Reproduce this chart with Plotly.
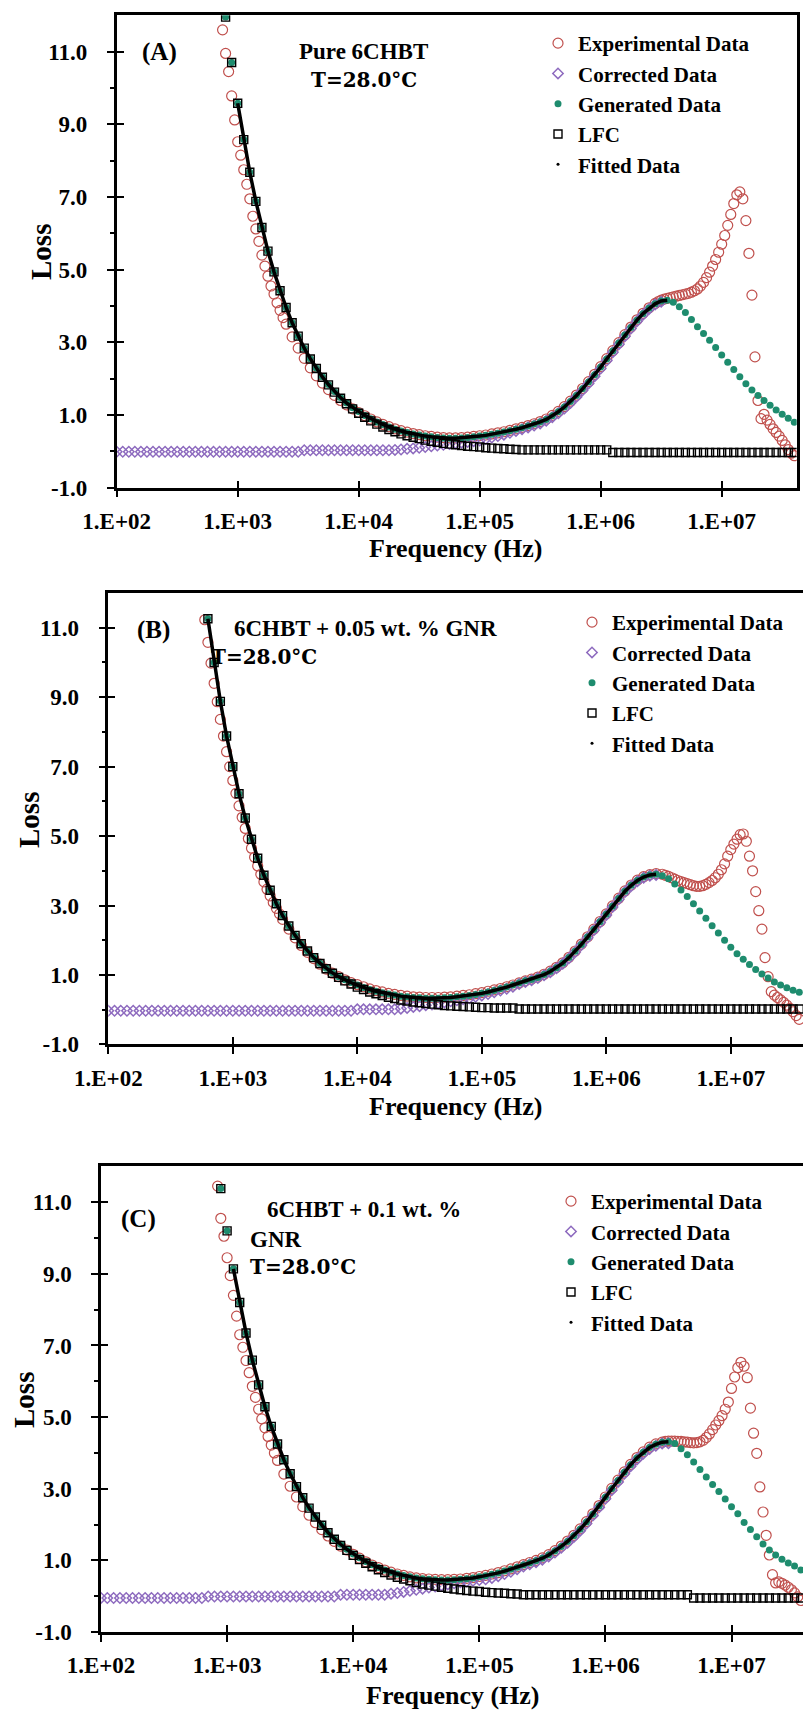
import plotly.graph_objects as go

W, H = 803, 1711

# ---------------- shared frequency grids (log10 of Hz) ----------------
GRID_LOGF = [
    2.00, 2.05, 2.10, 2.15, 2.20, 2.25, 2.30, 2.35, 2.40, 2.45,
    2.50, 2.55, 2.60, 2.65, 2.70, 2.75, 2.80, 2.85, 2.90, 2.95,
    3.00, 3.05, 3.10, 3.15, 3.20, 3.25, 3.30, 3.35, 3.40, 3.45,
    3.50, 3.55, 3.60, 3.65, 3.70, 3.75, 3.80, 3.85, 3.90, 3.95,
    4.00, 4.05, 4.10, 4.15, 4.20, 4.25, 4.30, 4.35, 4.40, 4.45,
    4.50, 4.55, 4.60, 4.65, 4.70, 4.75, 4.80, 4.85, 4.90, 4.95,
    5.00, 5.05, 5.10, 5.15, 5.20, 5.25, 5.30, 5.35, 5.40, 5.45,
    5.50, 5.55, 5.60, 5.65, 5.70, 5.75, 5.80, 5.85, 5.90, 5.95,
    6.00, 6.05, 6.10, 6.15, 6.20, 6.25, 6.30, 6.35, 6.40, 6.45,
    6.50, 6.55, 6.60, 6.65, 6.70, 6.75, 6.80, 6.85, 6.90, 6.95,
    7.00, 7.05, 7.10, 7.15, 7.20, 7.25, 7.30, 7.35, 7.40, 7.45,
    7.50, 7.55, 7.60,
]

EXP_LOGF = [
    2.750, 2.775, 2.800, 2.825, 2.850, 2.875, 2.900, 2.925, 2.950, 2.975,
    3.000, 3.025, 3.050, 3.075, 3.100, 3.125, 3.150, 3.175, 3.200, 3.225,
    3.250, 3.275, 3.300, 3.325, 3.350, 3.375, 3.400,
    3.45, 3.50, 3.55, 3.60, 3.65, 3.70, 3.75, 3.80, 3.85, 3.90,
    3.95, 4.00, 4.05, 4.10, 4.15, 4.20, 4.25, 4.30, 4.35, 4.40,
    4.45, 4.50, 4.55, 4.60, 4.65, 4.70, 4.75, 4.80, 4.85, 4.90,
    4.95, 5.00, 5.05, 5.10, 5.15, 5.20, 5.25, 5.30, 5.35, 5.40,
    5.45, 5.50, 5.55, 5.60, 5.65, 5.70, 5.75, 5.80, 5.85, 5.90,
    5.95, 6.00, 6.05, 6.10, 6.15, 6.20, 6.25, 6.30, 6.35, 6.40,
    6.45,
    6.475, 6.500, 6.525, 6.550, 6.575, 6.600, 6.625, 6.650, 6.675, 6.700,
    6.725, 6.750, 6.775, 6.800, 6.825, 6.850, 6.875, 6.900, 6.925, 6.950,
    6.975, 7.000, 7.025, 7.050, 7.075, 7.100, 7.125, 7.150, 7.175, 7.200,
    7.225, 7.250, 7.275, 7.300, 7.325, 7.350, 7.375, 7.400, 7.425, 7.450,
    7.475, 7.500, 7.525, 7.550, 7.575, 7.600,
]

X_TICK_HZ = [1e2, 1e3, 1e4, 1e5, 1e6, 1e7]
X_TICK_TEXT = ["1.E+02", "1.E+03", "1.E+04", "1.E+05", "1.E+06", "1.E+07"]
Y_TICK_VALS = [-1, 1, 3, 5, 7, 9, 11]
Y_TICK_TEXT = ["-1.0", "1.0", "3.0", "5.0", "7.0", "9.0", "11.0"]
Y_MINOR_VALS = [0, 2, 4, 6, 8, 10]
SERIES = ["Experimental Data", "Corrected Data", "Generated Data", "LFC", "Fitted Data"]

# ---------------- Panel A : Pure 6CHBT ----------------
A_exp_from = 2.875
A_exp = [
    11.60, 10.95, 10.45, 9.78, 9.12, 8.52, 8.15, 7.75, 7.35, 6.95,
    6.47, 6.12, 5.78, 5.40, 5.10, 4.82, 4.55, 4.33, 4.09, 3.88,
    3.68, 3.50,
    3.15, 2.84, 2.56, 2.30, 2.08, 1.88, 1.70, 1.54, 1.40, 1.28,
    1.17, 1.07, 0.98, 0.89, 0.81, 0.74, 0.68, 0.62, 0.57, 0.53,
    0.49, 0.46, 0.43, 0.41, 0.39, 0.38, 0.37, 0.37, 0.38, 0.39,
    0.41, 0.43, 0.45, 0.48, 0.51, 0.54, 0.58, 0.62, 0.66, 0.71,
    0.76, 0.82, 0.89, 0.99, 1.10, 1.23, 1.38, 1.55, 1.73, 1.92,
    2.12, 2.33, 2.55, 2.77, 2.99, 3.21, 3.42, 3.62, 3.80, 3.95,
    4.07,
    4.12, 4.16, 4.19, 4.21, 4.23, 4.25, 4.27, 4.29, 4.31, 4.33,
    4.35, 4.38, 4.42, 4.47, 4.55, 4.65, 4.78, 4.93, 5.10, 5.28,
    5.48, 5.70, 5.94, 6.22, 6.52, 6.82, 7.06, 7.14, 6.95, 6.35,
    5.45, 4.30, 2.60, 1.40, 0.90, 1.02, 0.86, 0.74, 0.62, 0.52,
    0.42, 0.30, 0.18, 0.05, -0.05, -0.12,
]
A_corr_from = 2.00
A_corr = [
    -0.01, -0.01, -0.01, -0.01, -0.01, -0.01, -0.01, -0.01, -0.01, -0.01,
    -0.01, -0.01, -0.01, -0.01, -0.01, -0.01, -0.01, -0.01, -0.01, -0.01,
    -0.01, -0.01, -0.01, -0.01, -0.01, -0.01, -0.01, -0.01, -0.01, -0.01,
    -0.01, 0.03, 0.03, 0.03, 0.03, 0.03, 0.03, 0.03, 0.03, 0.03,
    0.03, 0.03, 0.03, 0.03, 0.03, 0.03, 0.04, 0.05, 0.07, 0.08,
    0.10, 0.12, 0.14, 0.16, 0.18, 0.20, 0.22, 0.24, 0.26, 0.28,
    0.30, 0.34, 0.38, 0.42, 0.46, 0.51, 0.56, 0.61, 0.66, 0.71,
    0.77, 0.84, 0.94, 1.05, 1.18, 1.33, 1.50, 1.68, 1.87, 2.07,
    2.28, 2.50, 2.73, 2.95, 3.17, 3.38, 3.58, 3.76, 3.92, 4.04,
    4.12,
]
A_gen_from = 2.90
A_gen = [
    11.95, 10.70, 9.58, 8.58, 7.68, 6.88, 6.16, 5.51, 4.94, 4.42,
    3.96, 3.54, 3.17, 2.84, 2.55, 2.29, 2.05, 1.84, 1.65, 1.48,
    1.33, 1.20, 1.10, 0.99, 0.90, 0.81, 0.74, 0.67, 0.61, 0.56,
    0.52, 0.48, 0.45, 0.42, 0.40, 0.38, 0.37, 0.36, 0.36, 0.37,
    0.38, 0.40, 0.42, 0.44, 0.47, 0.50, 0.53, 0.57, 0.61, 0.65,
    0.70, 0.75, 0.81, 0.88, 0.98, 1.09, 1.22, 1.37, 1.54, 1.72,
    1.91, 2.11, 2.32, 2.54, 2.76, 2.98, 3.20, 3.41, 3.61, 3.79,
    3.94, 4.06, 4.14, 4.16, 4.10, 3.98, 3.82, 3.63, 3.43, 3.24,
    3.06, 2.86, 2.65, 2.45, 2.25, 2.05, 1.86, 1.69, 1.54, 1.40,
    1.27, 1.14, 1.02, 0.91, 0.80,
]
A_lfc_from = 2.90
A_lfc = [
    11.95, 10.70, 9.58, 8.58, 7.68, 6.88, 6.16, 5.51, 4.94, 4.42,
    3.96, 3.54, 3.17, 2.84, 2.54, 2.28, 2.04, 1.83, 1.63, 1.46,
    1.31, 1.17, 1.05, 0.94, 0.84, 0.75, 0.67, 0.60, 0.54, 0.48,
    0.43, 0.39, 0.35, 0.31, 0.28, 0.25, 0.22, 0.20, 0.18, 0.16,
    0.14, 0.13, 0.12, 0.10, 0.09, 0.08, 0.07, 0.06, 0.05, 0.04,
    0.04, 0.04, 0.04, 0.04, 0.04, 0.04, 0.04, 0.04, 0.04, 0.04,
    0.04, 0.04, 0.04, 0.04, -0.03, -0.03, -0.03, -0.03, -0.03, -0.03,
    -0.03, -0.03, -0.03, -0.03, -0.03, -0.03, -0.03, -0.03, -0.03, -0.03,
    -0.03, -0.03, -0.03, -0.03, -0.03, -0.03, -0.03, -0.03, -0.03, -0.03,
    -0.03, -0.03, -0.03, -0.03, -0.03,
]
A_fit_span = (3.00, 6.55)

# ---------------- Panel B : 6CHBT + 0.05 wt.% GNR ----------------
B_exp_from = 2.775
B_exp = [
    11.23, 10.58, 9.98, 9.40, 8.87, 8.36, 7.88, 7.43, 7.00, 6.60,
    6.23, 5.87, 5.54, 5.22, 4.93, 4.65, 4.39, 4.14, 3.90, 3.68,
    3.47, 3.28, 3.09, 2.92, 2.76, 2.60,
    2.32, 2.07, 1.85, 1.65, 1.47, 1.31, 1.17, 1.05, 0.95, 0.86,
    0.78, 0.72, 0.66, 0.60, 0.55, 0.51, 0.47, 0.44, 0.41, 0.39,
    0.37, 0.36, 0.35, 0.35, 0.35, 0.36, 0.37, 0.39, 0.41, 0.43,
    0.46, 0.49, 0.53, 0.57, 0.61, 0.66, 0.71, 0.77, 0.83, 0.88,
    0.94, 1.02, 1.11, 1.22, 1.35, 1.51, 1.69, 1.89, 2.10, 2.32,
    2.54, 2.76, 2.99, 3.21, 3.42, 3.59, 3.73, 3.83, 3.89, 3.92,
    3.90,
    3.87, 3.84, 3.80, 3.76, 3.72, 3.69, 3.66, 3.63, 3.60, 3.57,
    3.55, 3.55, 3.57, 3.61, 3.66, 3.72, 3.80, 3.90, 4.03, 4.20,
    4.42, 4.61, 4.77, 4.91, 5.04, 5.06, 4.85, 4.42, 4.00, 3.40,
    2.85, 2.32, 1.50, 0.95, 0.52, 0.42, 0.35, 0.28, 0.21, 0.13,
    0.04, -0.06, -0.17, -0.28,
]
B_corr_from = 2.00
B_corr = [
    -0.03, -0.03, -0.03, -0.03, -0.03, -0.03, -0.03, -0.03, -0.03, -0.03,
    -0.03, -0.03, -0.03, -0.03, -0.03, -0.03, -0.03, -0.03, -0.03, -0.03,
    -0.03, -0.03, -0.03, -0.03, -0.03, -0.03, -0.03, -0.03, -0.03, -0.03,
    -0.03, -0.03, -0.03, -0.03, -0.03, -0.03, -0.03, -0.03, -0.03, -0.03,
    0.01, 0.01, 0.01, 0.01, 0.01, 0.01, 0.01, 0.03, 0.05, 0.08,
    0.10, 0.13, 0.15, 0.18, 0.21, 0.24, 0.27, 0.30, 0.33, 0.37,
    0.41, 0.45, 0.50, 0.55, 0.60, 0.66, 0.74, 0.80, 0.85, 0.91,
    0.99, 1.08, 1.19, 1.32, 1.48, 1.66, 1.86, 2.07, 2.29, 2.51,
    2.73, 2.96, 3.18, 3.39, 3.56, 3.70, 3.80, 3.86, 3.88,
]
B_gen_from = 2.80
B_gen = [
    11.26, 10.00, 8.88, 7.88, 7.00, 6.22, 5.52, 4.91, 4.36, 3.87,
    3.44, 3.05, 2.71, 2.41, 2.14, 1.90, 1.69, 1.50, 1.34, 1.19,
    1.06, 0.95, 0.86, 0.78, 0.71, 0.64, 0.58, 0.53, 0.49, 0.45,
    0.42, 0.39, 0.37, 0.35, 0.34, 0.33, 0.33, 0.33, 0.34, 0.35,
    0.37, 0.39, 0.41, 0.44, 0.47, 0.51, 0.55, 0.60, 0.65, 0.71,
    0.77, 0.83, 0.87, 0.93, 1.01, 1.10, 1.21, 1.34, 1.50, 1.68,
    1.88, 2.09, 2.31, 2.53, 2.75, 2.98, 3.20, 3.41, 3.58, 3.72,
    3.82, 3.88, 3.90, 3.86, 3.77, 3.62, 3.45, 3.26, 3.05, 2.84,
    2.63, 2.42, 2.21, 2.00, 1.80, 1.61, 1.45, 1.30, 1.16, 1.03,
    0.91, 0.80, 0.71, 0.63, 0.56, 0.50,
]
B_lfc_from = 2.80
B_lfc = [
    11.26, 10.00, 8.88, 7.88, 7.00, 6.22, 5.52, 4.91, 4.36, 3.87,
    3.44, 3.05, 2.71, 2.41, 2.14, 1.90, 1.69, 1.50, 1.33, 1.18,
    1.05, 0.93, 0.83, 0.74, 0.65, 0.58, 0.51, 0.46, 0.41, 0.36,
    0.32, 0.28, 0.25, 0.22, 0.20, 0.18, 0.16, 0.14, 0.12, 0.11,
    0.10, 0.09, 0.08, 0.07, 0.06, 0.06, 0.05, 0.05, 0.05, 0.05,
    0.02, 0.02, 0.02, 0.02, 0.02, 0.02, 0.02, 0.02, 0.02, 0.02,
    0.02, 0.02, 0.02, 0.02, 0.02, 0.02, 0.02, 0.02, 0.02, 0.02,
    0.02, 0.02, 0.02, 0.02, 0.02, 0.02, 0.02, 0.02, 0.02, 0.02,
    0.02, 0.02, 0.02, 0.02, 0.02, 0.02, 0.02, 0.02, 0.02, 0.02,
    0.02, 0.02, 0.02, 0.02, 0.02, 0.02,
]
B_fit_span = (2.80, 6.40)

# ---------------- Panel C : 6CHBT + 0.1 wt.% GNR ----------------
C_exp_from = 2.925
C_exp = [
    11.45, 10.55, 10.05, 9.45, 8.95, 8.40, 7.82, 7.30, 6.95, 6.58,
    6.24, 5.86, 5.55, 5.22, 4.95, 4.70, 4.46, 4.22, 4.00, 3.79,
    3.41, 3.07, 2.77, 2.50, 2.26, 2.05, 1.86, 1.68, 1.53, 1.40,
    1.29, 1.17, 1.06, 0.96, 0.87, 0.80, 0.73, 0.67, 0.62, 0.58,
    0.54, 0.51, 0.49, 0.48, 0.47, 0.46, 0.46, 0.47, 0.48, 0.50,
    0.52, 0.55, 0.58, 0.62, 0.66, 0.71, 0.76, 0.82, 0.88, 0.94,
    1.00, 1.07, 1.16, 1.27, 1.40, 1.54, 1.70, 1.88, 2.08, 2.30,
    2.53, 2.77, 3.01, 3.24, 3.47, 3.68, 3.87, 4.03, 4.16, 4.25,
    4.30,
    4.32, 4.33, 4.33, 4.33, 4.32, 4.32, 4.31, 4.30, 4.29, 4.28,
    4.29, 4.31, 4.35, 4.43, 4.53, 4.65, 4.78, 4.90, 5.04, 5.22,
    5.42, 5.80, 6.12, 6.38, 6.53, 6.42, 6.10, 5.25, 4.55, 3.99,
    3.05, 2.35, 1.70, 1.15, 0.60, 0.37, 0.40, 0.36, 0.31, 0.25,
    0.18, 0.09, -0.02, -0.12,
]
C_corr_from = 2.00
C_corr = [
    -0.05, -0.05, -0.05, -0.05, -0.05, -0.05, -0.05, -0.05, -0.05, -0.05,
    -0.05, -0.05, -0.05, -0.05, -0.05, -0.05, -0.05, -0.01, -0.01, -0.01,
    -0.01, -0.01, -0.01, -0.01, -0.01, -0.01, -0.01, -0.01, -0.01, -0.01,
    -0.01, -0.01, -0.01, -0.01, -0.01, -0.01, -0.01, -0.01, 0.04, 0.04,
    0.04, 0.04, 0.04, 0.04, 0.04, 0.04, 0.07, 0.09, 0.12, 0.15,
    0.18, 0.21, 0.24, 0.27, 0.30, 0.33, 0.36, 0.39, 0.41, 0.43,
    0.45, 0.47, 0.51, 0.56, 0.62, 0.68, 0.75, 0.83, 0.89, 0.95,
    1.02, 1.11, 1.22, 1.35, 1.49, 1.65, 1.83, 2.03, 2.25, 2.48,
    2.72, 2.96, 3.19, 3.42, 3.63, 3.82, 3.98, 4.11, 4.20, 4.26,
    4.27,
]
C_gen_from = 2.95
C_gen = [
    11.38, 10.20, 9.14, 8.20, 7.35, 6.59, 5.90, 5.29, 4.74, 4.25,
    3.81, 3.42, 3.06, 2.75, 2.47, 2.22, 1.99, 1.78, 1.60, 1.45,
    1.31, 1.18, 1.07, 0.97, 0.88, 0.80, 0.73, 0.67, 0.62, 0.58,
    0.54, 0.51, 0.49, 0.47, 0.46, 0.45, 0.45, 0.46, 0.47, 0.49,
    0.51, 0.54, 0.57, 0.61, 0.65, 0.70, 0.75, 0.81, 0.87, 0.93,
    0.99, 1.06, 1.15, 1.26, 1.39, 1.53, 1.69, 1.87, 2.07, 2.29,
    2.52, 2.76, 3.00, 3.23, 3.46, 3.67, 3.86, 4.02, 4.15, 4.24,
    4.30, 4.31, 4.26, 4.12, 3.95, 3.75, 3.54, 3.33, 3.12, 2.92,
    2.71, 2.50, 2.30, 2.06, 1.86, 1.66, 1.46, 1.29, 1.15, 1.03,
    0.93, 0.84, 0.73,
]
C_lfc_from = 2.95
C_lfc = [
    11.38, 10.20, 9.14, 8.20, 7.35, 6.59, 5.90, 5.29, 4.74, 4.25,
    3.81, 3.42, 3.06, 2.75, 2.46, 2.21, 1.98, 1.77, 1.59, 1.42,
    1.28, 1.14, 1.02, 0.92, 0.82, 0.74, 0.66, 0.59, 0.53, 0.48,
    0.43, 0.38, 0.34, 0.31, 0.28, 0.25, 0.22, 0.20, 0.18, 0.16,
    0.14, 0.13, 0.11, 0.10, 0.09, 0.08, 0.07, 0.06, 0.04, 0.04,
    0.04, 0.04, 0.04, 0.04, 0.04, 0.04, 0.04, 0.04, 0.04, 0.04,
    0.04, 0.04, 0.04, 0.04, 0.04, 0.04, 0.04, 0.04, 0.04, 0.04,
    0.04, 0.04, 0.04, 0.04, 0.04, -0.05, -0.05, -0.05, -0.05, -0.05,
    -0.05, -0.05, -0.05, -0.05, -0.05, -0.05, -0.05, -0.05, -0.05, -0.05,
    -0.05, -0.05, -0.05,
]
C_fit_span = (3.05, 6.50)


# ---------------- helpers ----------------
def nearest(grid, v):
    return min(range(len(grid)), key=lambda i: abs(grid[i] - v))


def hz(grid, start, n):
    i = nearest(grid, start)
    return [10 ** g for g in grid[i:i + n]]


def fx(px):
    return px / W


def fy(py):
    return 1 - py / H


FONT = "Liberation Serif"
TICK_FONT = dict(family=FONT, size=23, color="black", weight="bold")
LEG_FONT = dict(family=FONT, size=21, color="black", weight="bold")

PANELS = [
    dict(tag="A", x="x", y="y", xo="x4", yo="y4", legend="legend",
         exp=(A_exp_from, A_exp), corr=(A_corr_from, A_corr), gen=(A_gen_from, A_gen),
         lfc=(A_lfc_from, A_lfc), fit=A_fit_span,
         xpx=(116.7, 796.7), ypx=(15.3, 487.7), xr=(2.0, 7.62), ymirror=True,
         leg=(538, 23),
         texts=[("(A)", 140, 52, 25, FONT), ("Pure 6CHBT", 297, 51, 23, FONT),
                ("T=28.0°C", 309, 80, 20, "DejaVu Serif")],
         loss=(41, 252), freq=(456, 548)),
    dict(tag="B", x="x2", y="y2", xo="x5", yo="y5", legend="legend2",
         exp=(B_exp_from, B_exp), corr=(B_corr_from, B_corr), gen=(B_gen_from, B_gen),
         lfc=(B_lfc_from, B_lfc), fit=B_fit_span,
         xpx=(108.3, 803), ypx=(593, 1044.4), xr=(2.0, 7.58), ymirror=False,
         leg=(572, 602),
         texts=[("(B)", 135, 630, 25, FONT), ("6CHBT + 0.05 wt. % GNR", 232, 628, 23, FONT),
                ("T=28.0°C", 209, 657, 20, "DejaVu Serif")],
         loss=(29, 820), freq=(456, 1106)),
    dict(tag="C", x="x3", y="y3", xo="x6", yo="y6", legend="legend3",
         exp=(C_exp_from, C_exp), corr=(C_corr_from, C_corr), gen=(C_gen_from, C_gen),
         lfc=(C_lfc_from, C_lfc), fit=C_fit_span,
         xpx=(101, 803), ypx=(1166.4, 1632), xr=(2.0, 7.567), ymirror=False,
         leg=(551, 1181),
         texts=[("(C)", 119, 1219, 25, FONT), ("6CHBT + 0.1 wt. %", 265, 1209, 23, FONT),
                ("GNR", 248, 1239, 23, FONT), ("T=28.0°C", 248, 1267, 20, "DejaVu Serif")],
         loss=(24, 1400), freq=(453, 1695)),
]

fig = go.Figure()
layout = dict(width=W, height=H, margin=dict(l=0, r=0, t=0, b=0, pad=0, autoexpand=False),
              autosize=False, paper_bgcolor="white", plot_bgcolor="white", showlegend=True)
annotations = []

for p in PANELS:
    xa = "xaxis" + p["x"][1:]
    ya = "yaxis" + p["y"][1:]
    xo = "xaxis" + p["xo"][1:]
    yo = "yaxis" + p["yo"][1:]
    common = dict(xaxis=p["x"], yaxis=p["y"], legend=p["legend"], hoverinfo="skip")

    ef, ev = p["exp"]
    fig.add_trace(go.Scatter(x=hz(EXP_LOGF, ef, len(ev)), y=ev, mode="markers", name=SERIES[0],
                             marker=dict(symbol="circle-open", size=10, color="#C0504D",
                                         line=dict(width=1.2)), **common))
    cf, cv = p["corr"]
    fig.add_trace(go.Scatter(x=hz(GRID_LOGF, cf, len(cv)), y=cv, mode="markers", name=SERIES[1],
                             marker=dict(symbol="diamond-open", size=8, color="#8E6BBF",
                                         line=dict(width=1.5)), **common))
    gf, gv = p["gen"]
    fig.add_trace(go.Scatter(x=hz(GRID_LOGF, gf, len(gv)), y=gv, mode="markers", name=SERIES[2],
                             marker=dict(symbol="circle", size=7, color="#1E8C6E"), **common))
    lf, lv = p["lfc"]
    fig.add_trace(go.Scatter(x=hz(GRID_LOGF, lf, len(lv)), y=lv, mode="markers", name=SERIES[3],
                             marker=dict(symbol="square-open", size=8, color="black",
                                         line=dict(width=1.4)), **common))
    # legend proxy for the fitted points
    fig.add_trace(go.Scatter(x=[None], y=[None], mode="markers", name=SERIES[4],
                             marker=dict(symbol="circle", size=3, color="black"), **common))
    f0, f1 = p["fit"]
    i0 = nearest(GRID_LOGF, f0) - nearest(GRID_LOGF, gf)
    i1 = nearest(GRID_LOGF, f1) - nearest(GRID_LOGF, gf) + 1
    fit_vals = gv[i0:i1]
    fig.add_trace(go.Scatter(x=hz(GRID_LOGF, f0, len(fit_vals)), y=fit_vals, mode="lines",
                             name=SERIES[4], showlegend=False,
                             line=dict(color="black", width=3.5), **common))
    # dummy trace so the overlay tick axes are drawn
    fig.add_trace(go.Scatter(x=[None], y=[None], xaxis=p["xo"], yaxis=p["yo"],
                             showlegend=False, hoverinfo="skip"))

    xdom = [fx(p["xpx"][0]), min(1.0, fx(p["xpx"][1]))]
    ydom = [fy(p["ypx"][1]), fy(p["ypx"][0])]
    layout[xa] = dict(type="log", domain=xdom, range=list(p["xr"]), anchor=p["y"],
                      tickmode="array", tickvals=X_TICK_HZ, ticktext=X_TICK_TEXT,
                      ticks="outside", ticklen=7, tickwidth=2, tickcolor="black",
                      showline=True, linewidth=2.5, linecolor="black", mirror=True,
                      showgrid=False, zeroline=False, tickfont=TICK_FONT, automargin=False,
                      ticklabelstandoff=4, fixedrange=True)
    layout[ya] = dict(domain=ydom, range=[-1, 12], anchor=p["x"],
                      tickmode="array", tickvals=Y_TICK_VALS, ticktext=Y_TICK_TEXT,
                      ticks="outside", ticklen=7, tickwidth=2, tickcolor="black",
                      minor=dict(tickmode="array", tickvals=Y_MINOR_VALS, ticks="outside",
                                 ticklen=4, tickwidth=2, tickcolor="black"),
                      showline=True, linewidth=2.5, linecolor="black", mirror=p["ymirror"],
                      showgrid=False, zeroline=False, tickfont=TICK_FONT, automargin=False,
                      ticklabelstandoff=15, fixedrange=True)
    layout[xo] = dict(type="log", overlaying=p["x"], anchor=p["y"], range=list(p["xr"]),
                      tickmode="array", tickvals=X_TICK_HZ, ticks="inside", ticklen=7,
                      tickwidth=2, tickcolor="black", showticklabels=False, showline=False,
                      showgrid=False, zeroline=False, fixedrange=True, automargin=False)
    layout[yo] = dict(overlaying=p["y"], anchor=p["x"], range=[-1, 12],
                      tickmode="array", tickvals=Y_TICK_VALS, ticks="inside", ticklen=7,
                      tickwidth=2, tickcolor="black", showticklabels=False, showline=False,
                      showgrid=False, zeroline=False, fixedrange=True, automargin=False)
    layout[p["legend"]] = dict(x=fx(p["leg"][0]), y=fy(p["leg"][1]), xanchor="left",
                               yanchor="top", bgcolor="rgba(0,0,0,0)", borderwidth=0,
                               font=LEG_FONT, itemwidth=30, traceorder="normal",
                               tracegroupgap=0, itemclick=False, itemdoubleclick=False)

    for (txt, lx, cy, sz, fam) in p["texts"]:
        annotations.append(dict(text=txt, x=fx(lx), y=fy(cy), xref="paper", yref="paper",
                                xanchor="left", yanchor="middle", showarrow=False,
                                font=dict(family=fam, size=sz, color="black", weight="bold")))
    annotations.append(dict(text="Loss", x=fx(p["loss"][0]), y=fy(p["loss"][1]),
                            xref="paper", yref="paper", xanchor="center", yanchor="middle",
                            textangle=-90, showarrow=False,
                            font=dict(family=FONT, size=29, color="black", weight="bold")))
    annotations.append(dict(text="Frequency (Hz)", x=fx(p["freq"][0]), y=fy(p["freq"][1]),
                            xref="paper", yref="paper", xanchor="center", yanchor="middle",
                            showarrow=False,
                            font=dict(family=FONT, size=26, color="black", weight="bold")))

layout["annotations"] = annotations
fig.update_layout(**layout)
fig.write_html("out.html", config={"displayModeBar": False},
               post_script="document.body.style.margin='0px';document.body.style.padding='0px';")
